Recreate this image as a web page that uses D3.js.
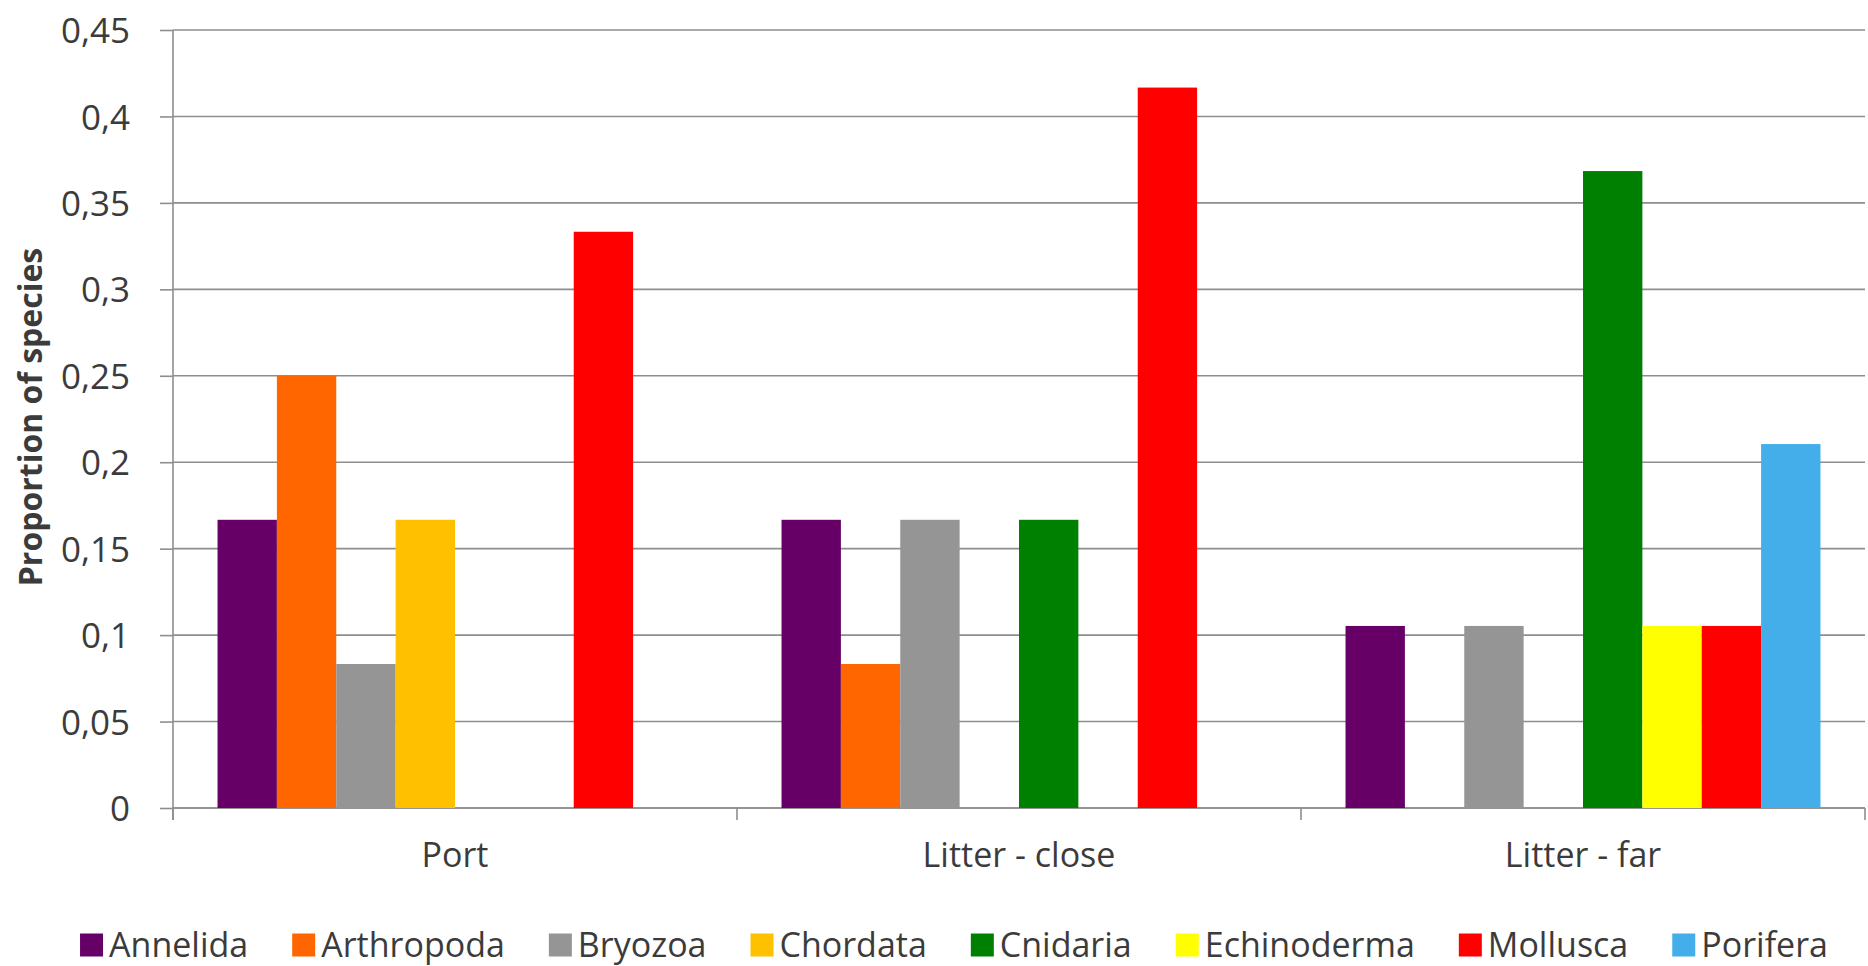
<!DOCTYPE html>
<html>
<head>
<meta charset="utf-8">
<script src="https://cdn.jsdelivr.net/npm/d3@7"></script>
<style>
  html, body { margin: 0; padding: 0; background: #ffffff; }
  svg { display: block; }
  text { font-family: "Open Sans", "Noto Sans", sans-serif; fill: #3b3b3b; }
</style>
</head>
<body>
<svg id="chart" width="1868" height="966"></svg>
<script>
// Sites along the x axis
const sites = ["Port", "Litter - close", "Litter - far"];

// Phyla (one bar per phylum in every site)
const phyla = ["Annelida", "Arthropoda", "Bryozoa", "Chordata", "Cnidaria", "Echinoderma", "Mollusca", "Porifera"];
const phylumColors = ["#660066", "#ff6600", "#959595", "#ffc000", "#008000", "#ffff00", "#ff0000", "#43aeea"];

// Proportion of species per phylum, one array per site (order follows `phyla`)
const portValues        = [0.1667, 0.25,   0.0833, 0.1667, 0,      0,      0.3333, 0];
const litterCloseValues = [0.1667, 0.0833, 0.1667, 0,      0.1667, 0,      0.4167, 0];
const litterFarValues   = [0.1053, 0,      0.1053, 0,      0.3684, 0.1053, 0.1053, 0.2105];

// Value-axis ticks
const yTicks = [0, 0.05, 0.1, 0.15, 0.2, 0.25, 0.3, 0.35, 0.4, 0.45];
const yTitle = "Proportion of species";

const siteValues = [portValues, litterCloseValues, litterFarValues];
const rows = sites.map((s, i) => ({ site: s, values: siteValues[i] }));

const svg = d3.select("#chart");
const plot = { left: 173, right: 1865, top: 30, bottom: 808 };

svg.append("rect").attr("width", 1868).attr("height", 966).attr("fill", "#ffffff");

const y = d3.scaleLinear().domain([0, 0.45]).range([plot.bottom, plot.top]);
const x0 = d3.scaleBand().domain(sites).range([plot.left, plot.right]).padding(0);

// Gap between clusters equals 1.5 bar widths
const barW = x0.bandwidth() / (phyla.length + 1.5);
const x1 = d3.scaleBand().domain(phyla)
  .range([0.75 * barW, x0.bandwidth() - 0.75 * barW]).padding(0);
const color = d3.scaleOrdinal().domain(phyla).range(phylumColors);

const locale = d3.formatLocale({ decimal: ",", thousands: ".", grouping: [3], currency: ["", ""] });
const fmt = locale.format(".2~f");

// Horizontal gridlines
svg.append("g")
  .selectAll("line")
  .data(yTicks)
  .join("line")
  .attr("x1", plot.left).attr("x2", plot.right)
  .attr("y1", d => y(d)).attr("y2", d => y(d))
  .attr("stroke", "#8e8e8e").attr("stroke-width", 1.6);

// Value axis
const yAxis = svg.append("g")
  .attr("transform", `translate(${plot.left},0)`)
  .call(d3.axisLeft(y).tickValues(yTicks).tickFormat(fmt).tickSize(13).tickPadding(30));
yAxis.select(".domain").attr("stroke", "#8e8e8e").attr("stroke-width", 1.6)
  .attr("d", `M0,${plot.top}V${plot.bottom + 12}`);
yAxis.selectAll(".tick line").attr("stroke", "#8e8e8e").attr("stroke-width", 1.6);
yAxis.selectAll(".tick text")
  .style("font-family", "'Open Sans', sans-serif")
  .style("font-size", "35px").attr("fill", "#3b3b3b").attr("dy", "0.36em");

// Category axis
const xAxis = svg.append("g")
  .attr("transform", `translate(0,${plot.bottom})`)
  .call(d3.axisBottom(x0).tickSize(0).tickPadding(35));
xAxis.select(".domain").attr("stroke", "#8e8e8e").attr("stroke-width", 1.6)
  .attr("d", `M${plot.left},0H${plot.right}`);
xAxis.selectAll(".tick text")
  .style("font-family", "'Open Sans', sans-serif")
  .style("font-size", "34px").attr("fill", "#3b3b3b");
// Tick marks between categories
xAxis.append("g")
  .selectAll("line")
  .data(sites.map(s => x0(s)).concat([plot.right]))
  .join("line")
  .attr("x1", d => d).attr("x2", d => d)
  .attr("y1", 0).attr("y2", 12)
  .attr("stroke", "#8e8e8e").attr("stroke-width", 1.6);

// Bars
svg.append("g")
  .selectAll("g")
  .data(rows)
  .join("g")
  .attr("transform", d => `translate(${x0(d.site)},0)`)
  .selectAll("rect")
  .data(d => phyla.map((p, i) => ({ phylum: p, value: d.values[i] })).filter(d => d.value > 0))
  .join("rect")
  .attr("x", d => x1(d.phylum))
  .attr("width", x1.bandwidth())
  .attr("y", d => y(d.value))
  .attr("height", d => y(0) - y(d.value))
  .attr("fill", d => color(d.phylum));

// Y-axis title
svg.append("text")
  .attr("transform", `translate(42,417) rotate(-90)`)
  .attr("text-anchor", "middle")
  .style("font-size", "32px").style("font-weight", "700")
  .attr("fill", "#1e1e1e")
  .text(yTitle);

// Legend
const legend = svg.append("g");
const sq = 23, txtGap = 6, itemGap = 44, legendY = 945;
let cursor = 0;
phyla.forEach(p => {
  const item = legend.append("g").attr("transform", `translate(${cursor},0)`);
  item.append("rect").attr("x", 0).attr("y", legendY - sq / 2)
    .attr("width", sq).attr("height", sq).attr("fill", color(p));
  const t = item.append("text").attr("x", sq + txtGap).attr("y", legendY)
    .attr("dy", "0.36em").style("font-size", "34px").attr("fill", "#3b3b3b").text(p);
  cursor += sq + txtGap + t.node().getComputedTextLength() + itemGap;
});
const legendWidth = cursor - itemGap;
legend.attr("transform", `translate(${954 - legendWidth / 2},0)`);
</script>
</body>
</html>
